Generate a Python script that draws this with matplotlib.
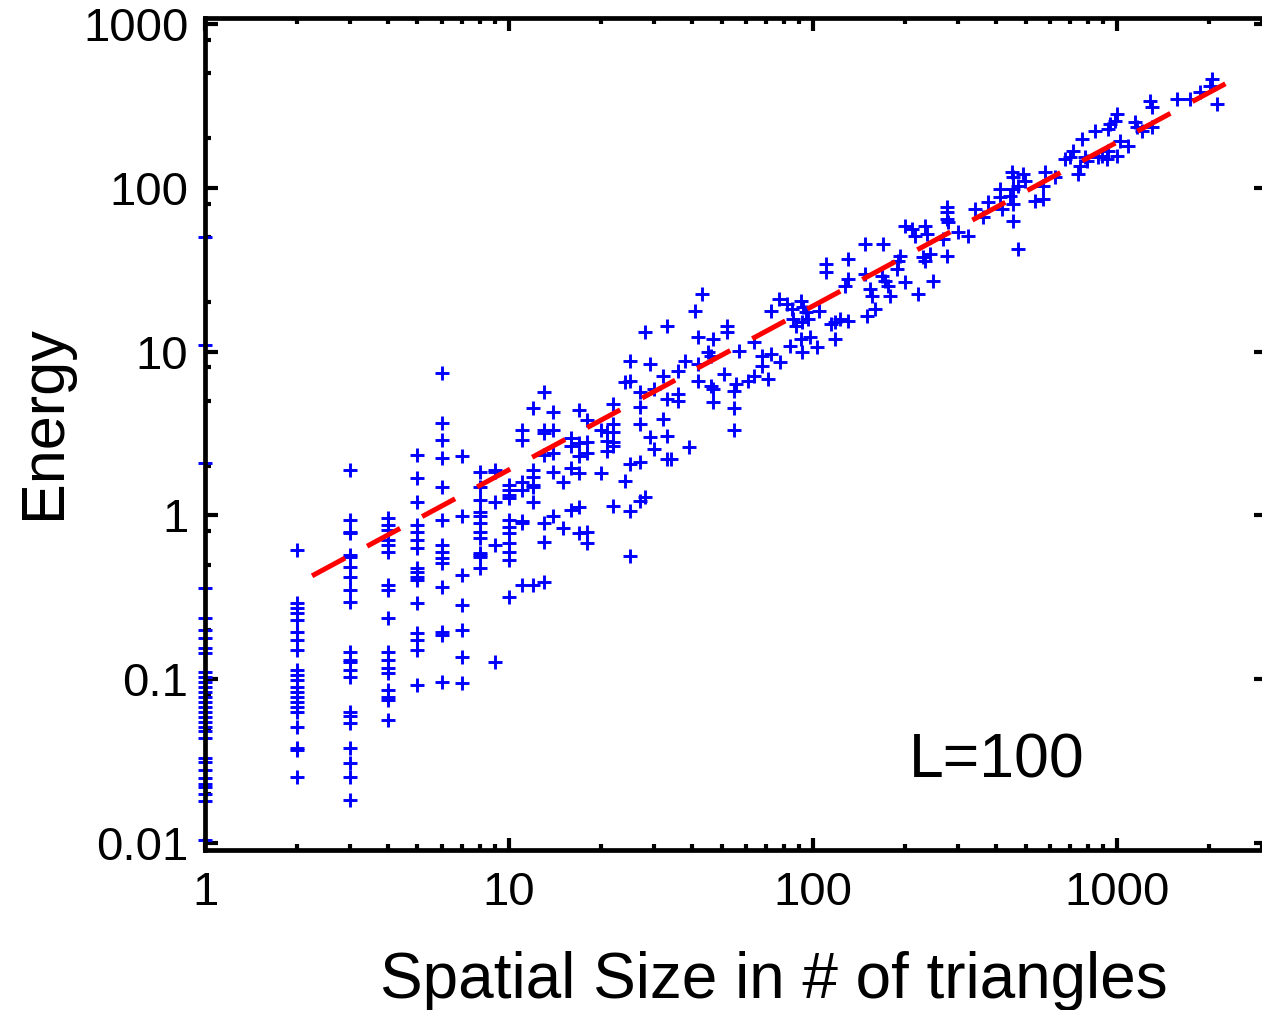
import numpy as np
import matplotlib
matplotlib.use("Agg")
import matplotlib.pyplot as plt
from matplotlib.ticker import FixedLocator, LogLocator, NullFormatter

plt.rcParams['font.family'] = ['Liberation Sans', 'DejaVu Sans']

# ---------------- data ----------------
# small clusters: size -> list of energies
e_size1 = [50, 11, 2.1, 0.36, 0.237, 0.20, 0.178, 0.155, 0.144, 0.110, 0.103, 0.096,
           0.090, 0.084, 0.078, 0.073, 0.068, 0.063, 0.059, 0.055, 0.051, 0.048, 0.044,
           0.033, 0.031, 0.028, 0.025, 0.023, 0.022, 0.020, 0.018, 0.0104]
e_size2 = [0.615, 0.29, 0.272, 0.254, 0.23, 0.194, 0.173, 0.151, 0.114, 0.106, 0.099,
           0.0896, 0.0836, 0.078, 0.0726, 0.0676, 0.063, 0.051, 0.038, 0.037, 0.0253]
e_size3 = [1.89, 0.94, 0.79, 0.78, 0.573, 0.557, 0.484, 0.42, 0.35, 0.296, 0.147, 0.131,
           0.127, 0.114, 0.103, 0.063, 0.060, 0.054, 0.038, 0.0308, 0.0253, 0.0183]
e_size4 = [0.964, 0.873, 0.815, 0.708, 0.66, 0.598, 0.376, 0.35, 0.237, 0.147, 0.131,
           0.117, 0.109, 0.086, 0.078, 0.0746, 0.0564]
e_size5 = [2.34, 1.69, 1.21, 0.873, 0.79, 0.708, 0.632, 0.477, 0.451, 0.42, 0.403, 0.29,
           0.191, 0.173, 0.151, 0.092]
e_size6 = [7.4, 3.66, 2.89, 2.24, 1.49, 0.94, 0.66, 0.598, 0.55, 0.512, 0.365, 0.194,
           0.187, 0.096]
e_size7 = [2.29, 0.986, 0.433, 0.284, 0.2, 0.137, 0.095]
e_size8 = [1.84, 1.49, 1.24, 1.05, 0.986, 0.9, 0.79, 0.728, 0.59, 0.577, 0.557, 0.477]
e_size9 = [1.89, 1.84, 1.21, 0.66, 0.127]
e_size10 = [1.53, 1.42, 1.33, 1.28, 0.94, 0.85, 0.78, 0.68, 0.6, 0.535, 0.318]
e_size11 = [3.32, 2.89, 1.6, 1.42, 0.92, 0.9, 0.376]
e_size12 = [4.52, 1.89, 1.72, 1.53, 1.49, 1.21, 0.376]
e_size13 = [5.67, 3.32, 3.2, 2.34, 0.9, 0.69, 0.39]
e_size14 = [4.28, 3.32, 2.4, 1.84, 0.99]
e_size15 = [1.6, 0.84]
e_size16 = [2.97, 2.65, 1.95, 1.08]
e_size17 = [4.4, 2.75, 2.29, 1.82, 1.12, 0.78]
e_size18 = [3.82, 2.8, 2.4, 0.79, 0.68]
e_size20 = [3.32, 1.82]
e_size21 = [3.23, 2.85, 2.47]
e_size22 = [4.78, 3.6, 3.23, 2.8, 2.67, 1.14]

small_sizes = [1, 2, 3, 4, 5, 6, 7, 8, 9, 10, 11, 12, 13, 14, 15, 16, 17, 18, 20, 21, 22]
small_energies = [e_size1, e_size2, e_size3, e_size4, e_size5, e_size6, e_size7, e_size8,
                  e_size9, e_size10, e_size11, e_size12, e_size13, e_size14, e_size15,
                  e_size16, e_size17, e_size18, e_size20, e_size21, e_size22]

# larger events: individual (size, energy) points
large_size = [25, 25, 25, 25, 25, 24, 24, 27, 27, 27, 27, 27,
              28, 33, 29, 32, 30, 36, 38, 36, 36, 33, 32, 29, 33, 30, 39, 33, 34, 28,
              43, 41, 42, 47, 52, 52, 42, 45, 46, 42, 46, 47, 47, 51, 57, 55, 56, 55,
              55, 61, 64, 64, 68, 68, 71, 73, 78, 73, 77, 82, 85, 84, 86, 88, 91, 93,
              95, 96, 92, 91, 98, 103, 105, 115, 118, 110, 110, 130, 127, 130, 130,
              123, 92, 118,
              148, 170, 148, 154, 156, 160, 150, 169, 172, 176, 179, 193, 190, 189,
              201, 221, 201, 212, 217, 234, 237, 230, 234, 248, 242, 276, 276, 276,
              278, 276, 268, 300, 324, 341,
              362, 377, 412, 412, 419, 451, 455, 491, 498, 455, 472, 455, 472, 455,
              444, 537, 571, 580, 571, 625, 674, 700, 717, 744, 755, 767, 785, 797,
              847, 866, 893, 934, 934, 948, 1000, 985, 1000, 1023, 1087, 1146, 1164,
              1208, 1303, 1284, 1303, 1575, 1738, 1875, 2054, 2023, 2133, 924]
large_energy = [8.8, 6.6, 2.06, 1.06, 0.565, 6.5, 1.62, 5.7, 4.6, 3.6, 2.12, 1.22,
                13.2, 14.3, 8.4, 7.1, 5.9, 7.6, 8.8, 5.5, 5.0, 5.1, 3.9, 3.0, 3.05, 2.54,
                2.62, 2.21, 2.21, 1.3,
                22.5, 17.7, 12.3, 11.9, 14.3, 13.2, 8.4, 9.9, 9.4, 6.6, 6.2, 5.9, 4.9,
                7.3, 10.1, 5.75, 6.3, 4.5, 3.3, 6.6, 7.1, 11.4, 9.4, 8.2, 6.8, 9.7, 8.6,
                17.7, 20.9, 19.5, 18.2, 10.8, 15.8, 14.3, 20.4, 18.7, 17.4, 15.8, 9.9,
                11.9, 12.3, 10.7, 17.7, 14.7, 11.9, 34.3, 30.7, 36.8, 25.1, 27.7, 15.4,
                15.8, 15.2, 15.2,
                45.4, 45.4, 29.8, 24.1, 21.8, 18.2, 16.5, 28.9, 27.0, 25.1, 21.8, 38.3,
                35.8, 31.9, 26.6, 22.5, 58.4, 56.0, 50.8, 58.4, 52.3, 37.8, 35.8, 27.0,
                39.4, 76.3, 71.1, 64.5, 61.8, 38.3, 48.7, 53.7, 50.8, 74.2,
                66.3, 81.9, 98.3, 87.9, 74.2, 124.9, 116.4, 121.4, 110.0, 98.3, 102.6,
                62.7, 42.3, 79.6, 89.1, 83.1, 85.4, 124.9, 102.6, 116.4, 149.9, 154,
                167.7, 121.4, 135.9, 198.5, 154, 145.8, 222, 154, 156.4, 167.7, 228.5,
                245, 282, 255.6, 156.4, 193, 180, 252, 235, 222, 235, 339, 311, 348,
                348, 384, 461, 418, 325, 149.9]

# power-law fit (dashed red line)
fit_coef = 0.19
fit_slope = 1.0
fit_x_start = 2.25
fit_x_end = 2320

x_tick_values = [1, 10, 100, 1000]
x_tick_labels = ['1', '10', '100', '1000']
y_tick_values = [0.01, 0.1, 1, 10, 100, 1000]
y_tick_labels = ['0.01', '0.1', '1', '10', '100', '1000']

x_label = 'Spatial Size in # of triangles'
y_label = 'Energy'
annotation = 'L=100'

# ---------------- build ----------------
sizes = []
energies = []
for s, es in zip(small_sizes, small_energies):
    sizes.extend([s] * len(es))
    energies.extend(es)
sizes.extend(large_size)
energies.extend(large_energy)
sizes = np.array(sizes, dtype=float)
energies = np.array(energies, dtype=float)

W, H = 1262, 1010
fig = plt.figure(figsize=(W / 100, H / 100), dpi=100)
L, R, T, B = 205, 1266, 18, 850
ax = fig.add_axes([L / W, 1 - B / H, (R - L) / W, (B - T) / H])
ax.set_xscale('log')
ax.set_yscale('log')
ax.set_xlim(1, 3090)
ax.set_ylim(0.00906, 1088)

ax.plot(sizes, energies, linestyle='none', marker='+', color='#0000ff',
        markersize=10.5, markeredgewidth=2.1, clip_on=False, zorder=2)

xf = np.geomspace(fit_x_start, fit_x_end, 200)
ax.plot(xf, fit_coef * xf ** fit_slope, color='#ff0000', linewidth=3.6,
        dashes=(7.5, 5), solid_capstyle='butt', dash_capstyle='butt', zorder=3)

ax.xaxis.set_major_locator(FixedLocator(x_tick_values))
ax.set_xticklabels(x_tick_labels)
ax.xaxis.set_minor_locator(LogLocator(base=10, subs=np.arange(2, 10)))
ax.xaxis.set_minor_formatter(NullFormatter())
ax.yaxis.set_major_locator(FixedLocator(y_tick_values))
ax.set_yticklabels(y_tick_labels)
ax.yaxis.set_minor_locator(LogLocator(base=10, subs=(2, 5, 8)))
ax.yaxis.set_minor_formatter(NullFormatter())

ax.tick_params(which='both', direction='in', top=True, right=True, width=3,
               color='black', labelsize=34)
ax.tick_params(which='major', length=9)
ax.tick_params(which='minor', length=4.5)
ax.tick_params(axis='y', which='minor', right=False)
ax.tick_params(axis='x', pad=15)
ax.tick_params(axis='y', pad=12)
for sp in ax.spines.values():
    sp.set_linewidth(3.4)

fig.text(774 / W, 1 - 998 / H, x_label, ha='center', va='baseline', fontsize=46)
fig.text(60 / W, 1 - 422 / H, y_label, ha='center', va='baseline', rotation=90,
         rotation_mode='anchor', fontsize=44)
ax.text(997 / W, 1 - 778 / H, annotation, transform=fig.transFigure,
        ha='center', va='baseline', fontsize=45)

fig.savefig('out.png', dpi=100)
